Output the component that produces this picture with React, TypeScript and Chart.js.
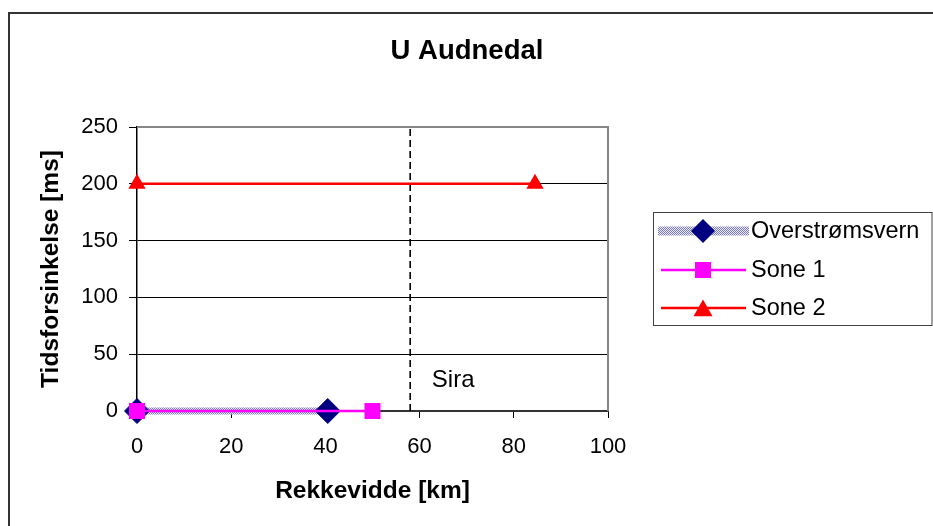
import React, { useEffect, useRef } from 'react';
import { Chart, registerables } from 'chart.js';

Chart.register(...registerables);

// ---- data ----
const chartTitle = 'U Audnedal';
const xAxisTitle = 'Rekkevidde [km]';
const yAxisTitle = 'Tidsforsinkelse [ms]';
const seriesNames = ['Overstrømsvern', 'Sone 1', 'Sone 2'];
const overX = [0, 40.5];
const overY = [0, 0];
const sone1X = [0, 50];
const sone1Y = [0, 0];
const sone2X = [0, 84.5];
const sone2Y = [200, 200];
const siraX = [58, 58];
const siraY = [0, 250];
const siraLabel = 'Sira';
const siraLabelX = 62.6;
const siraLabelY = 27;
const xRange = [0, 100];
const xStep = 20;
const yRange = [0, 250];
const yStep = 50;

const FONT = "'Liberation Sans', Arial, sans-serif";
const NAVY = '#000080';
const MAGENTA = '#FF00FF';
const RED = '#FF0000';

const pts = (xs: number[], ys: number[]) => xs.map((x, i) => ({ x, y: ys[i] }));

function makePattern(ctx: CanvasRenderingContext2D) {
  const c = document.createElement('canvas');
  c.width = 2;
  c.height = 2;
  const g = c.getContext('2d')!;
  g.fillStyle = '#ececf8';
  g.fillRect(0, 0, 2, 2);
  g.fillStyle = '#7878c4';
  g.fillRect(0, 0, 1, 1);
  g.fillRect(1, 1, 1, 1);
  return ctx.createPattern(c, 'repeat')!;
}

function diamond(ctx: CanvasRenderingContext2D, x: number, y: number, r: number) {
  ctx.beginPath();
  ctx.moveTo(x - r, y);
  ctx.lineTo(x, y - r);
  ctx.lineTo(x + r, y);
  ctx.lineTo(x, y + r);
  ctx.closePath();
  ctx.fill();
}

function square(ctx: CanvasRenderingContext2D, x: number, y: number, h: number) {
  ctx.fillRect(x - h, y - h, 2 * h, 2 * h);
}

function triangle(ctx: CanvasRenderingContext2D, x: number, y: number, h: number) {
  ctx.beginPath();
  ctx.moveTo(x, y - h);
  ctx.lineTo(x + h, y + h * 0.75);
  ctx.lineTo(x - h, y + h * 0.75);
  ctx.closePath();
  ctx.fill();
}

export default function App() {
  const ref = useRef<HTMLCanvasElement | null>(null);

  useEffect(() => {
    const canvas = ref.current!;
    const ctx0 = canvas.getContext('2d')!;
    const pattern = makePattern(ctx0);

    const framePlugin = {
      id: 'frame',
      beforeDatasetsDraw(chart: any) {
        const { ctx, chartArea: a } = chart;
        ctx.save();
        ctx.strokeStyle = '#868686';
        ctx.lineWidth = 2;
        ctx.beginPath();
        ctx.moveTo(a.left, a.top);
        ctx.lineTo(a.right, a.top);
        ctx.lineTo(a.right, a.bottom);
        ctx.stroke();
        ctx.restore();
      },
      afterDatasetsDraw(chart: any) {
        const { ctx, scales } = chart;
        ctx.save();
        ctx.fillStyle = '#000';
        ctx.font = `24px ${FONT}`;
        ctx.textAlign = 'left';
        ctx.textBaseline = 'middle';
        ctx.fillText(siraLabel, scales.x.getPixelForValue(siraLabelX), scales.y.getPixelForValue(siraLabelY));
        ctx.restore();
      },
      afterDraw(chart: any) {
        const { ctx } = chart;
        ctx.save();
        // title centred on the whole picture
        ctx.fillStyle = '#000';
        ctx.font = `bold 27.5px ${FONT}`;
        ctx.textAlign = 'center';
        ctx.textBaseline = 'middle';
        ctx.fillText(chartTitle, 467, 51);
        // legend
        const L = 653, T = 212, R = 931.5, B = 325;
        ctx.strokeStyle = '#404040';
        ctx.lineWidth = 1;
        ctx.strokeRect(L + 0.5, T + 0.5, R - L, B - T);
        const rows = [231, 270, 308];
        const mx = 703;
        // row 1
        ctx.fillStyle = pattern;
        ctx.fillRect(658, rows[0] - 4.5, 91, 9);
        ctx.fillStyle = NAVY;
        diamond(ctx, mx, rows[0], 12);
        // row 2
        ctx.strokeStyle = MAGENTA;
        ctx.lineWidth = 2.5;
        ctx.beginPath();
        ctx.moveTo(661, rows[1]);
        ctx.lineTo(746, rows[1]);
        ctx.stroke();
        ctx.fillStyle = MAGENTA;
        square(ctx, mx, rows[1], 8);
        // row 3
        ctx.strokeStyle = RED;
        ctx.beginPath();
        ctx.moveTo(661, rows[2]);
        ctx.lineTo(746, rows[2]);
        ctx.stroke();
        ctx.fillStyle = RED;
        triangle(ctx, mx, rows[2] + 1, 9.5);
        ctx.fillStyle = '#000';
        ctx.font = `23.5px ${FONT}`;
        ctx.textAlign = 'left';
        ctx.textBaseline = 'middle';
        seriesNames.forEach((n, i) => ctx.fillText(n, 751, rows[i] + 1));
        ctx.restore();
      },
    };

    const chart = new Chart(canvas, {
      type: 'scatter',
      data: {
        datasets: [
          {
            label: 'Sira',
            data: pts(siraX, siraY),
            showLine: true,
            borderColor: '#000',
            borderWidth: 1.6,
            borderDash: [7, 4],
            pointRadius: 0,
            order: 5,
          },
          {
            label: seriesNames[0],
            data: pts(overX, overY),
            showLine: true,
            borderColor: pattern,
            borderWidth: 7,
            borderCapStyle: 'butt',
            pointStyle: 'rectRot',
            pointRadius: 12.5,
            pointBackgroundColor: NAVY,
            pointBorderColor: NAVY,
            pointBorderWidth: 1,
            order: 3,
          },
          {
            label: seriesNames[1],
            data: pts(sone1X, sone1Y),
            showLine: true,
            borderColor: MAGENTA,
            borderWidth: 2.5,
            pointStyle: 'rect',
            pointRadius: 11.3,
            pointBackgroundColor: MAGENTA,
            pointBorderColor: MAGENTA,
            pointBorderWidth: 0,
            order: 2,
          },
          {
            label: seriesNames[2],
            data: pts(sone2X, sone2Y),
            showLine: true,
            borderColor: RED,
            borderWidth: 2.5,
            pointStyle: 'triangle',
            pointRadius: 10,
            pointBackgroundColor: RED,
            pointBorderColor: RED,
            pointBorderWidth: 0,
            order: 1,
          },
        ],
      } as any,
      options: {
        animation: false,
        responsive: true,
        maintainAspectRatio: false,
        events: [],
        clip: false,
        layout: { padding: { left: 33, right: 325, top: 127, bottom: 16.3 } },
        plugins: {
          legend: { display: false },
          tooltip: { enabled: false },
          title: { display: false },
        },
        scales: {
          x: {
            type: 'linear',
            min: xRange[0],
            max: xRange[1],
            ticks: {
              stepSize: xStep,
              color: '#000',
              padding: 16,
              font: { family: FONT, size: 22 },
            },
            grid: {
              drawOnChartArea: false,
              drawTicks: true,
              tickLength: 7,
              tickColor: '#000',
              tickWidth: 1,
            },
            border: { display: true, color: '#333', width: 2 },
            title: {
              display: true,
              text: xAxisTitle,
              color: '#000',
              font: { family: FONT, size: 24.5, weight: 'bold' },
              padding: { top: 17, bottom: 4 },
            },
            afterFit: (s: any) => {
              s.height = 98.7;
            },
          },
          y: {
            type: 'linear',
            min: yRange[0],
            max: yRange[1],
            ticks: {
              stepSize: yStep,
              color: '#000',
              padding: 11,
              font: { family: FONT, size: 22 },
            },
            grid: {
              drawTicks: true,
              tickLength: 8,
              tickColor: '#000',
              color: (c: any) => (c.tick && c.tick.value === yRange[1] ? 'rgba(0,0,0,0)' : '#000'),
              lineWidth: 1,
            },
            border: { display: true, color: '#000', width: 1.5 },
            title: {
              display: true,
              text: yAxisTitle,
              color: '#000',
              font: { family: FONT, size: 24.5, weight: 'bold' },
              padding: { top: 4, bottom: 4 },
            },
            afterFit: (s: any) => {
              s.width = 104;
            },
          },
        },
      } as any,
      plugins: [framePlugin],
    });

    return () => chart.destroy();
  }, []);

  return (
    <div style={{ position: 'fixed', left: 0, top: 0, width: 933, height: 526, background: '#fff' }}>
      <div
        style={{
          position: 'absolute',
          left: 8,
          top: 12,
          right: 0,
          bottom: 0,
          borderLeft: '2px solid #333',
          borderTop: '2px solid #333',
        }}
      />
      <canvas ref={ref} style={{ position: 'absolute', left: 0, top: 0 }} />
    </div>
  );
}
